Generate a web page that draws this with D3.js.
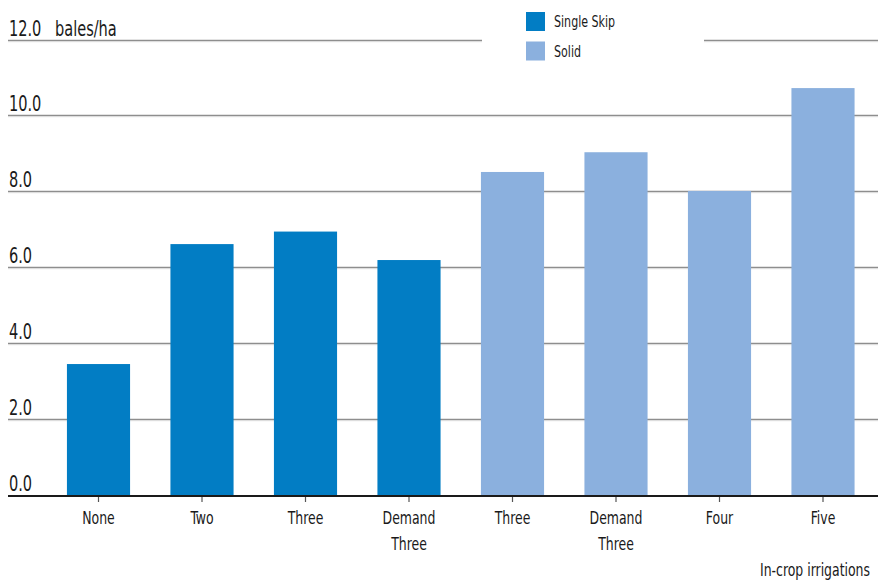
<!DOCTYPE html>
<html>
<head>
<meta charset="utf-8">
<script src="https://cdn.jsdelivr.net/npm/d3@7"></script>
<style>
  html, body { margin: 0; padding: 0; background: #fff; }
  svg { display: block; font-family: "Liberation Sans Narrow", "DejaVu Sans Condensed", "Roboto Condensed", sans-serif; }
</style>
</head>
<body>
<svg id="chart" width="882" height="580"></svg>
<script>
// Cotton yield by number of in-crop irrigations
const categories = ["None", "Two", "Three", "Demand\nThree", "Three", "Demand\nThree", "Four", "Five"];
const yieldValues = [3.45, 6.61, 6.94, 6.19, 8.51, 9.03, 8.01, 10.72];
const seriesOf = ["Single Skip", "Single Skip", "Single Skip", "Single Skip", "Solid", "Solid", "Solid", "Solid"];
const seriesNames = ["Single Skip", "Solid"];
const seriesColors = ["#027DC4", "#8BB0DE"];
const yTicks = [0, 2, 4, 6, 8, 10, 12];
const yUnit = "bales/ha";
const xTitle = "In-crop irrigations";

const svg = d3.select("#chart");
const gridLeft = 8, gridRight = 878;
const NARROW = 0.77; // horizontal squeeze for a condensed look

const y = d3.scaleLinear().domain([0, 12]).range([495, 39.5]);
const x = d3.scaleBand()
  .domain(d3.range(categories.length))
  .range([46.75, 874.75])
  .paddingInner(0.39)
  .paddingOuter(0.195);
const color = d3.scaleOrdinal().domain(seriesNames).range(seriesColors);

// place a text node at (px, py) and squeeze it horizontally
function narrowText(sel, px, py, size, anchor) {
  return sel.append("text")
    .attr("transform", `translate(${px},${py}) scale(${NARROW},1)`)
    .attr("font-size", size)
    .attr("text-anchor", anchor || "start")
    .attr("fill", "#1a1a1a");
}

// Gridlines (the top one is interrupted by the legend)
const grid = svg.append("g");
yTicks.filter(t => t > 0).forEach(t => {
  const yy = Math.round(y(t)) + 0.5;
  const segs = t === 12 ? [[gridLeft, 482], [704, gridRight]] : [[gridLeft, gridRight]];
  segs.forEach(([a, b]) => {
    grid.append("line").attr("x1", a).attr("x2", b).attr("y1", yy).attr("y2", yy)
      .attr("stroke", "#8e8e8e").attr("stroke-width", 1.4);
    grid.append("line").attr("x1", a).attr("x2", b).attr("y1", yy + 1.2).attr("y2", yy + 1.2)
      .attr("stroke", "#dcdcdc").attr("stroke-width", 1);
  });
});

// Y tick labels sit above their gridlines
const yLab = svg.append("g");
yTicks.forEach(t => {
  narrowText(yLab, 9, y(t) - 4, 21).text(t.toFixed(1));
});
narrowText(yLab, 55, y(12) - 4, 21).text(yUnit);

// Bars
svg.append("g").selectAll("rect").data(yieldValues).join("rect")
  .attr("x", (d, i) => x(i))
  .attr("width", x.bandwidth())
  .attr("y", d => y(d))
  .attr("height", d => y(0) - y(d))
  .attr("fill", (d, i) => color(seriesOf[i]));

// X axis
const xAxis = d3.axisBottom(x).tickSize(6).tickSizeOuter(0).tickFormat("");
const ax = svg.append("g").attr("transform", `translate(0,${y(0) + 1})`).call(xAxis);
ax.select(".domain").remove();
ax.selectAll(".tick line").attr("stroke", "#555").attr("stroke-width", 1.2);
svg.append("line")
  .attr("x1", gridLeft).attr("x2", gridRight)
  .attr("y1", y(0) + 1).attr("y2", y(0) + 1)
  .attr("stroke", "#1a1a1a").attr("stroke-width", 2);

// Category labels (two-line where needed)
const xLab = svg.append("g");
categories.forEach((c, i) => {
  const t = narrowText(xLab, x(i) + x.bandwidth() / 2, 524, 18, "middle");
  c.split("\n").forEach((line, k) => {
    t.append("tspan").attr("x", 0).attr("dy", k === 0 ? 0 : 26).text(line);
  });
});

narrowText(svg, 870, 576, 18, "end").text(xTitle);

// Legend
const legend = svg.append("g");
seriesNames.forEach((s, i) => {
  const g = legend.append("g").attr("transform", `translate(526,${12 + i * 29.5})`);
  g.append("rect").attr("width", 19).attr("height", 19).attr("fill", color(s));
  narrowText(g, 28, 15, 16).text(s);
});
</script>
</body>
</html>
